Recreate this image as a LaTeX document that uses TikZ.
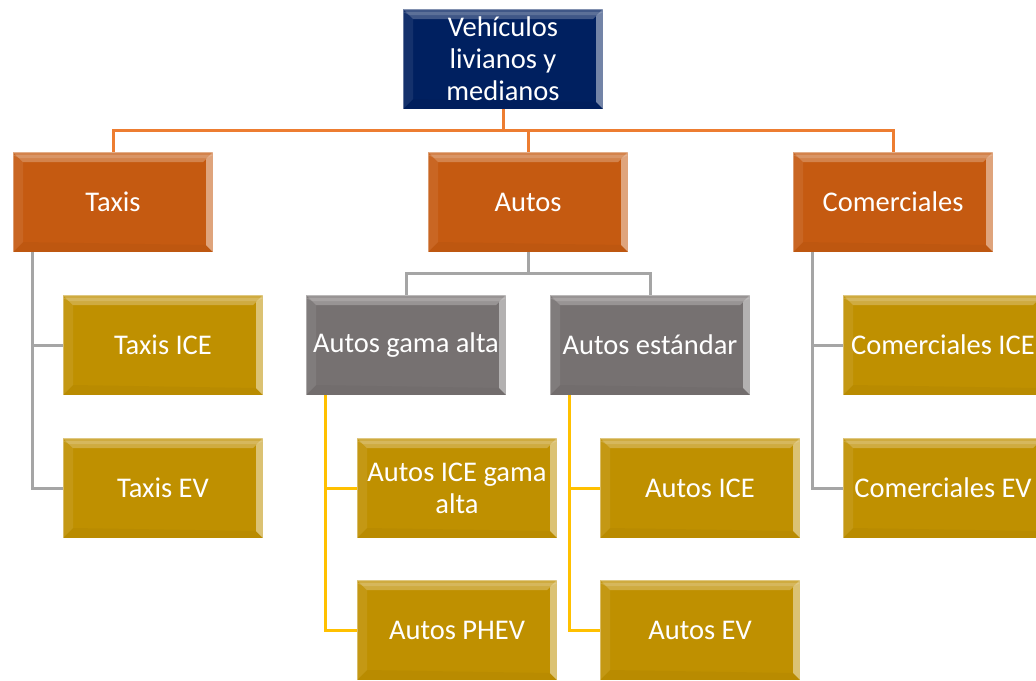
\documentclass[tikz,border=0pt]{standalone}
\usepackage{fontspec}
\setmainfont{Carlito}
\definecolor{navy}{RGB}{0,32,96}
\definecolor{rust}{RGB}{197,90,17}
\definecolor{taupe}{RGB}{118,113,113}
\definecolor{gold}{RGB}{191,144,0}
\definecolor{orangeln}{RGB}{237,125,49}
\definecolor{grayln}{RGB}{165,165,165}
\definecolor{yellowln}{RGB}{255,192,0}
\tikzset{
  bevelbox/.style={rectangle, minimum width=200pt, minimum height=100pt, inner sep=0pt,
    text=white, align=center, font=\fontsize{28.5}{32}\selectfont,
    draw=white, draw opacity=0.35, line width=0.8pt,
    path picture={
      \def\bb{path picture bounding box}
      \fill[white,opacity=0.25] (\bb.north west) -- (\bb.north east) -- ([xshift=-10pt,yshift=-10pt]\bb.north east) -- ([xshift=10pt,yshift=-10pt]\bb.north west) -- cycle;
      \fill[white,opacity=0.15] ([yshift=-3pt]\bb.north west) -- ([yshift=-3pt]\bb.north east) -- ([xshift=-6pt,yshift=-6pt]\bb.north east) -- ([xshift=6pt,yshift=-6pt]\bb.north west) -- cycle;
      \fill[white,opacity=0.45] (\bb.north east) -- (\bb.south east) -- ([xshift=-7pt,yshift=7pt]\bb.south east) -- ([xshift=-7pt,yshift=-7pt]\bb.north east) -- cycle;
      \fill[white,opacity=0.08] (\bb.north west) -- (\bb.south west) -- ([xshift=10pt,yshift=10pt]\bb.south west) -- ([xshift=10pt,yshift=-10pt]\bb.north west) -- cycle;
      \fill[black,opacity=0.03] (\bb.south west) -- (\bb.south east) -- ([xshift=-7pt,yshift=7pt]\bb.south east) -- ([xshift=10pt,yshift=10pt]\bb.south west) -- cycle;
    }},
  topbox/.style={bevelbox, fill=navy},
  lvlone/.style={bevelbox, fill=rust},
  lvltwo/.style={bevelbox, fill=taupe},
  leafbox/.style={bevelbox, fill=gold},
  oline/.style={draw=orangeln, line width=3pt},
  gline/.style={draw=grayln, line width=3pt},
  yline/.style={draw=yellowln, line width=3pt},
}
\begin{document}
\begin{tikzpicture}[x=1pt,y=-1pt]
\useasboundingbox (0,0) rectangle (1036,680);
\clip (0,0) rectangle (1036,680);
\fill[white] (0,0) rectangle (1036,680);

\node[topbox] (top) at (503,59) {Vehículos\\livianos y\\medianos};
\node[lvlone] (taxis) at (113,202) {Taxis};
\node[lvlone] (autos) at (528,202) {Autos};
\node[lvlone] (com) at (893,202) {Comerciales};

\node[leafbox] (taxisice) at (163,345) {Taxis ICE};
\node[leafbox] (taxisev) at (163,488) {Taxis EV};

\node[lvltwo] (gama) at (406,345) {Autos gama alta};
\node[lvltwo] (est) at (650,345) {Autos estándar};

\node[leafbox] (iceg) at (457,488) {Autos ICE gama\\alta};
\node[leafbox] (phev) at (457,630) {Autos PHEV};
\node[leafbox] (ice) at (700,488) {Autos ICE};
\node[leafbox] (ev) at (700,630) {Autos EV};

\node[leafbox] (comice) at (943,345) {Comerciales ICE};
\node[leafbox] (comev) at (943,488) {Comerciales EV};

\draw[oline] (top.south) -- ++(0,21) -| (taxis.north);
\draw[oline] (top.south) -- ++(0,21) -| (autos.north);
\draw[oline] (top.south) -- ++(0,21) -| (com.north);

\draw[gline] ([xshift=20pt]taxis.south west) |- (taxisice.west);
\draw[gline] ([xshift=20pt]taxis.south west) |- (taxisev.west);

\draw[gline] (autos.south) -- ++(0,21) -| (gama.north);
\draw[gline] (autos.south) -- ++(0,21) -| (est.north);

\draw[yline] ([xshift=20pt]gama.south west) |- (iceg.west);
\draw[yline] ([xshift=20pt]gama.south west) |- (phev.west);
\draw[yline] ([xshift=20pt]est.south west) |- (ice.west);
\draw[yline] ([xshift=20pt]est.south west) |- (ev.west);

\draw[gline] ([xshift=20pt]com.south west) |- (comice.west);
\draw[gline] ([xshift=20pt]com.south west) |- (comev.west);
\end{tikzpicture}
\end{document}
